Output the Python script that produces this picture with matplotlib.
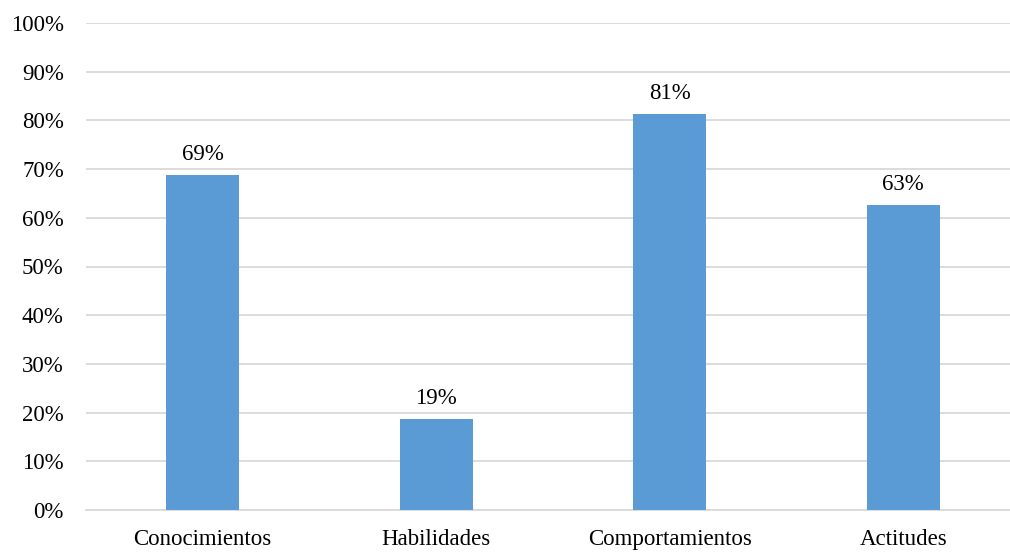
import matplotlib
matplotlib.use("Agg")
import matplotlib.pyplot as plt
from matplotlib.ticker import FuncFormatter

categories = ["Conocimientos", "Habilidades", "Comportamientos", "Actitudes"]
values = [68.8, 18.7, 81.3, 62.6]
yticks = list(range(0, 101, 10))

plt.rcParams["font.family"] = ["Liberation Serif", "DejaVu Serif"]

W, H = 1010, 552
fig = plt.figure(figsize=(W / 100, H / 100), dpi=100)
left, right, bottom, top = 86, 1020, 510, 23
ax = fig.add_axes([left / W, 1 - bottom / H, (right - left) / W, (bottom - top) / H])

x = range(len(categories))
ax.bar(x, values, width=0.313, color="#5B9BD5", zorder=3)

for xi, v in zip(x, values):
    ax.text(xi, v + 2.0, f"{round(v)}%", ha="center", va="bottom",
            fontsize=16.5, color="#000000")

ax.set_xlim(-0.5, len(categories) - 0.5)
ax.set_ylim(0, 100)
ax.set_yticks(yticks)
ax.yaxis.set_major_formatter(FuncFormatter(lambda v, p: f"{int(v)}%"))
ax.set_xticks(list(x))
ax.set_xticklabels(categories)
ax.tick_params(axis="both", length=0, labelsize=16.5, colors="#000000")
ax.tick_params(axis="y", pad=16)
ax.tick_params(axis="x", pad=14)

ax.grid(axis="y", color="#D9D9D9", linewidth=1.3, zorder=0)
for s in ["top", "right", "left"]:
    ax.spines[s].set_visible(False)
ax.spines["bottom"].set_color("#D9D9D9")
ax.spines["bottom"].set_linewidth(1.3)

fig.savefig("out.png", dpi=100, facecolor="white")
